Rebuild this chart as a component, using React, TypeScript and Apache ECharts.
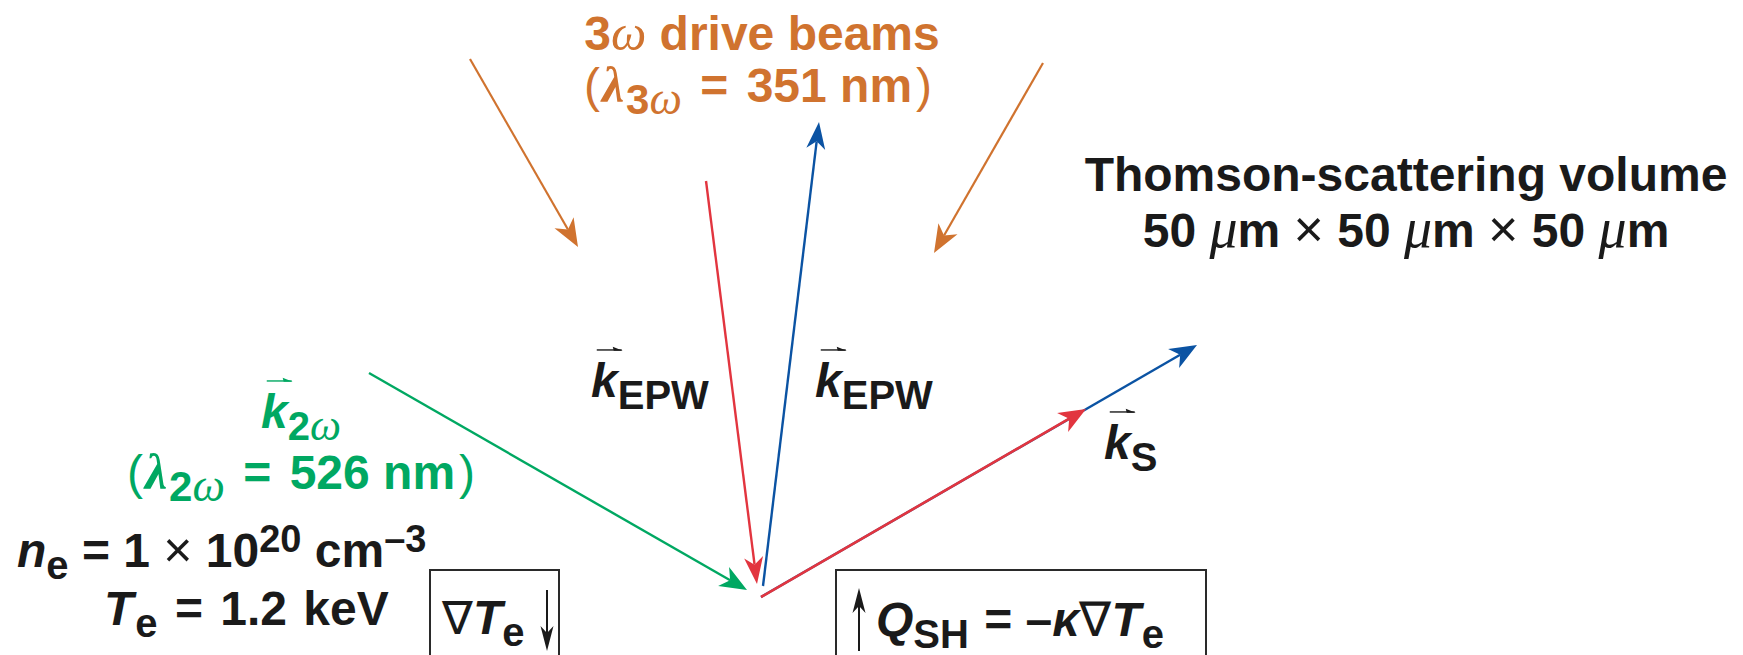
import React, { useEffect, useRef } from 'react';
import * as echarts from 'echarts';

const W = 1743;
const H = 655;

const ORANGE = '#D0732F';
const GREEN = '#00A862';
const RED = '#E2353F';
const BLUE = '#0B53A3';
const BLACK = '#1A1A1A';
const COLORS = [ORANGE, GREEN, RED, BLUE, BLACK];

// Arrows: [x1, y1, x2(tip), y2(tip), colorIndex, headLength, headWidth, lineWidth]
const driveBeams = [
  [470, 59, 578, 247, 0, 28, 22, 2.2],
  [1043, 63, 934, 253, 0, 28, 22, 2.2],
];
const probeBeam = [[369, 373, 747, 590, 1, 27, 22, 2.4]];
const epwWaves = [
  [706, 181, 757, 584, 2, 27, 19, 2.4],
  [763, 586, 819, 122, 3, 27, 19, 2.4],
];
const scatteredBeams = [
  [761, 597, 1197, 345, 3, 27, 22, 2.4],
  [761, 597, 1086, 409, 2, 27, 22, 2.6],
];
const boxArrows = [
  [547, 590, 547, 651, 4, 25, 13, 2],
  [859, 651, 859, 588, 4, 25, 13, 2],
];
// Boxes: [x1, y1, x2, y2]
const boxes = [
  [430, 570, 559, 665],
  [836, 570, 1206, 665],
];

const SANS = '"Liberation Sans", Arial, Helvetica, sans-serif';
const SERIF = '"Liberation Serif", "Times New Roman", serif';

type Piece = { t: string; s: number; c?: string; it?: boolean; w?: string; f?: string; dy?: number; dx?: number; vec?: boolean };

const MAIN = 48;
const SUB = 40;
const SUBDY = 12;
const SUP = 38;
const SUPDY = -15;

const orange1: Piece[] = [
  { t: '3', s: MAIN, w: 'bold' },
  { t: 'ω', s: 50, f: SERIF, it: true },
  { t: ' drive beams', s: MAIN, w: 'bold' },
];
const orange2: Piece[] = [
  { t: '(', s: MAIN },
  { t: 'λ', s: 50, w: 'bold', it: true, f: SERIF, dx: 2 },
  { t: '3', s: 42, w: 'bold', dy: SUBDY, dx: 2 },
  { t: 'ω', s: 46, f: SERIF, it: true, dy: SUBDY },
  { t: ' = ', s: MAIN, w: 'bold', dx: 5 },
  { t: '351 nm', s: MAIN, w: 'bold', dx: 5 },
  { t: ')', s: MAIN, dx: 4 },
];
const thomson1: Piece[] = [{ t: 'Thomson-scattering volume', s: MAIN, w: 'bold' }];
const thomson2: Piece[] = [
  { t: '50 ', s: MAIN, w: 'bold' },
  { t: 'μ', s: 56, f: SERIF, it: true },
  { t: 'm ', s: MAIN, w: 'bold' },
  { t: '×', s: 52 },
  { t: ' 50 ', s: MAIN, w: 'bold' },
  { t: 'μ', s: 56, f: SERIF, it: true },
  { t: 'm ', s: MAIN, w: 'bold' },
  { t: '×', s: 52 },
  { t: ' 50 ', s: MAIN, w: 'bold' },
  { t: 'μ', s: 56, f: SERIF, it: true },
  { t: 'm', s: MAIN, w: 'bold' },
];
const green1: Piece[] = [
  { t: 'k', s: MAIN, w: 'bold', it: true, vec: true },
  { t: '2', s: SUB, w: 'bold', dy: SUBDY },
  { t: 'ω', s: 44, f: SERIF, it: true, dy: SUBDY },
];
const green2: Piece[] = [
  { t: '(', s: MAIN },
  { t: 'λ', s: 50, w: 'bold', it: true, f: SERIF, dx: 2 },
  { t: '2', s: 42, w: 'bold', dy: SUBDY, dx: 2 },
  { t: 'ω', s: 46, f: SERIF, it: true, dy: SUBDY },
  { t: ' = ', s: MAIN, w: 'bold', dx: 5 },
  { t: '526 nm', s: MAIN, w: 'bold', dx: 5 },
  { t: ')', s: MAIN, dx: 4 },
];
const density: Piece[] = [
  { t: 'n', s: MAIN, w: 'bold', it: true },
  { t: 'e', s: SUB, w: 'bold', dy: SUBDY },
  { t: ' = 1 ', s: MAIN, w: 'bold' },
  { t: '×', s: 50 },
  { t: ' 10', s: MAIN, w: 'bold' },
  { t: '20', s: SUP, w: 'bold', dy: SUPDY },
  { t: ' cm', s: MAIN, w: 'bold' },
  { t: '–3', s: SUP, w: 'bold', dy: SUPDY },
];
const temperature: Piece[] = [
  { t: 'T', s: MAIN, w: 'bold', it: true },
  { t: 'e', s: SUB, w: 'bold', dy: SUBDY, dx: 2 },
  { t: ' = ', s: MAIN, w: 'bold', dx: 4 },
  { t: '1.2', s: MAIN, w: 'bold', dx: 4 },
  { t: ' keV', s: MAIN, w: 'bold', dx: 3 },
];
const kepw: Piece[] = [
  { t: 'k', s: MAIN, w: 'bold', it: true, vec: true },
  { t: 'EPW', s: SUB, w: 'bold', dy: SUBDY },
];
const ks: Piece[] = [
  { t: 'k', s: MAIN, w: 'bold', it: true, vec: true },
  { t: 'S', s: SUB, w: 'bold', dy: SUBDY },
];
const gradT: Piece[] = [
  { t: '∇', s: 46, f: SERIF },
  { t: 'T', s: MAIN, w: 'bold', it: true },
  { t: 'e', s: SUB, w: 'bold', dy: SUBDY },
];
const heatFlux: Piece[] = [
  { t: 'Q', s: MAIN, w: 'bold', it: true },
  { t: 'SH', s: SUB, w: 'bold', dy: SUBDY },
  { t: ' = ', s: MAIN, w: 'bold', dx: 2 },
  { t: '–', s: MAIN, w: 'bold' },
  { t: 'κ', s: MAIN, w: 'bold', it: true },
  { t: '∇', s: 48, f: SERIF },
  { t: 'T', s: MAIN, w: 'bold', it: true },
  { t: 'e', s: SUB, w: 'bold', dy: SUBDY, dx: 1 },
];

function fontOf(p: Piece) {
  return `${p.it ? 'italic ' : ''}${p.w || 'normal'} ${p.s}px ${p.f || SANS}`;
}

function layoutLine(pieces: Piece[], x: number, baseline: number, align: 'left' | 'center', color: string, out: any[]) {
  const ctx = document.createElement('canvas').getContext('2d')!;
  const widths = pieces.map((p) => {
    ctx.font = fontOf(p);
    return ctx.measureText(p.t).width + (p.dx || 0);
  });
  const total = widths.reduce((a, b) => a + b, 0);
  let cx = align === 'center' ? x - total / 2 : x;
  pieces.forEach((p, i) => {
    const bl = baseline + (p.dy || 0);
    const px = cx + (p.dx || 0);
    out.push({
      type: 'text',
      x: px,
      y: bl - p.s * 0.34,
      silent: true,
      style: {
        text: p.t,
        fill: p.c || color,
        fontSize: p.s,
        fontFamily: p.f || SANS,
        fontWeight: p.w || 'normal',
        fontStyle: p.it ? 'italic' : 'normal',
        align: 'left',
        verticalAlign: 'middle',
      },
    });
    if (p.vec) {
      const y = bl - p.s * 0.98;
      const x0 = px + p.s * 0.12;
      const x1 = px + p.s * 0.64;
      out.push({ type: 'line', silent: true, shape: { x1: x0, y1: y, x2: x1, y2: y }, style: { stroke: p.c || color, lineWidth: 1.4 } });
      out.push({ type: 'polygon', silent: true, shape: { points: [[x1 + 1, y + 0.7], [x1 - 9, y - 3.2], [x1 - 8, y + 0.7]] }, style: { fill: p.c || color } });
    }
    cx += widths[i];
  });
}

export default function App() {
  const ref = useRef<HTMLDivElement>(null);
  useEffect(() => {
    document.body.style.margin = '0';
    const chart = echarts.init(ref.current!, undefined, { renderer: 'svg' });

    const arrows = [...driveBeams, ...probeBeam, ...epwWaves, ...scatteredBeams, ...boxArrows];

    const texts: any[] = [];
    layoutLine(orange1, 762, 50, 'center', ORANGE, texts);
    layoutLine(orange2, 758, 102, 'center', ORANGE, texts);
    layoutLine(thomson1, 1406, 191, 'center', BLACK, texts);
    layoutLine(thomson2, 1406, 247, 'center', BLACK, texts);
    layoutLine(green1, 301, 428, 'center', GREEN, texts);
    layoutLine(green2, 301, 489, 'center', GREEN, texts);
    layoutLine(density, 17, 567, 'left', BLACK, texts);
    layoutLine(temperature, 104, 625, 'left', BLACK, texts);
    layoutLine(kepw, 591, 397, 'left', BLACK, texts);
    layoutLine(kepw, 815, 397, 'left', BLACK, texts);
    layoutLine(ks, 1104, 459, 'left', BLACK, texts);
    layoutLine(gradT, 442, 634, 'left', BLACK, texts);
    layoutLine(heatFlux, 876, 636, 'left', BLACK, texts);

    const option: any = {
      animation: false,
      backgroundColor: '#ffffff',
      grid: { left: 0, right: 0, top: 0, bottom: 0 },
      xAxis: { type: 'value', min: 0, max: W, show: false },
      yAxis: { type: 'value', min: 0, max: H, inverse: true, show: false },
      series: [
        {
          type: 'custom',
          silent: true,
          clip: false,
          encode: { x: [0, 2], y: [1, 3] },
          data: boxes,
          renderItem: (params: any, api: any) => {
            const a = api.coord([api.value(0), api.value(1)]);
            const b = api.coord([api.value(2), api.value(3)]);
            return {
              type: 'rect',
              shape: { x: a[0], y: a[1], width: b[0] - a[0], height: b[1] - a[1] },
              style: { fill: 'none', stroke: '#2a2a2a', lineWidth: 2 },
            };
          },
        },
        {
          type: 'custom',
          silent: true,
          clip: false,
          encode: { x: [0, 2], y: [1, 3] },
          data: arrows,
          renderItem: (params: any, api: any) => {
            const p1 = api.coord([api.value(0), api.value(1)]);
            const p2 = api.coord([api.value(2), api.value(3)]);
            const color = COLORS[api.value(4)];
            const hl = api.value(5);
            const hw = api.value(6);
            const lw = api.value(7);
            const dx = p2[0] - p1[0];
            const dy = p2[1] - p1[1];
            const len = Math.hypot(dx, dy);
            const ux = dx / len;
            const uy = dy / len;
            const nx = -uy;
            const ny = ux;
            const bx = p2[0] - ux * hl;
            const by = p2[1] - uy * hl;
            const mx = p2[0] - ux * hl * 0.72;
            const my = p2[1] - uy * hl * 0.72;
            return {
              type: 'group',
              children: [
                {
                  type: 'line',
                  shape: { x1: p1[0], y1: p1[1], x2: mx, y2: my },
                  style: { stroke: color, lineWidth: lw },
                },
                {
                  type: 'polygon',
                  shape: {
                    points: [
                      [p2[0], p2[1]],
                      [bx + (nx * hw) / 2, by + (ny * hw) / 2],
                      [mx, my],
                      [bx - (nx * hw) / 2, by - (ny * hw) / 2],
                    ],
                  },
                  style: { fill: color },
                },
              ],
            };
          },
        },
      ],
      graphic: texts,
    };
    chart.setOption(option);
    return () => chart.dispose();
  }, []);
  return <div ref={ref} style={{ width: W, height: H, background: '#fff' }} />;
}
